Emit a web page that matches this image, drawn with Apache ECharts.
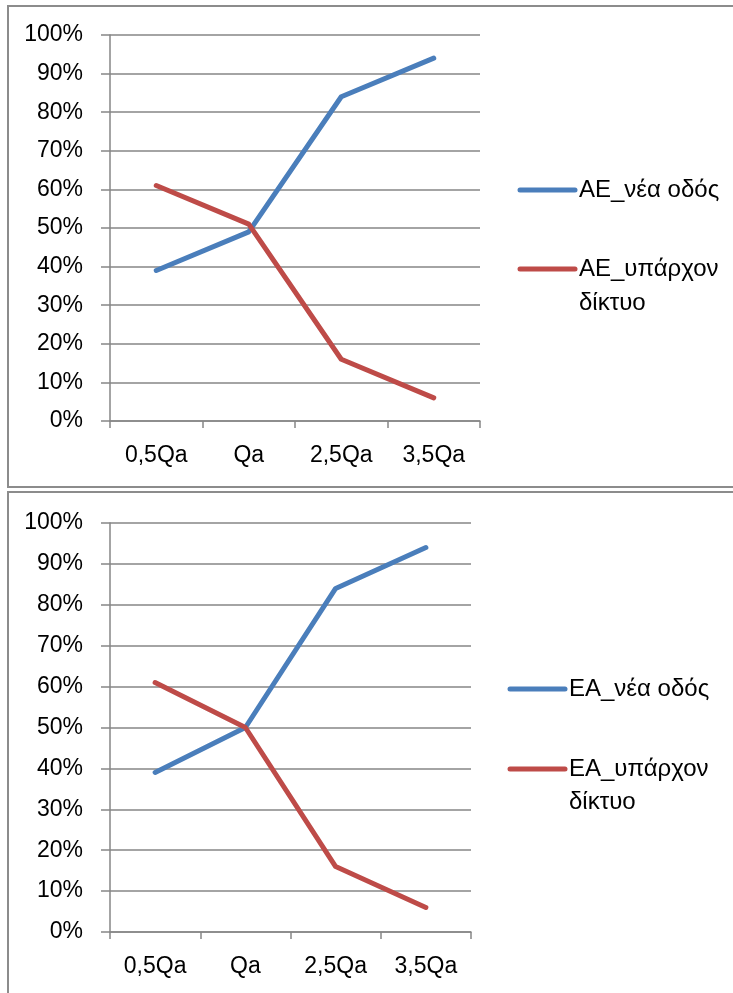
<!DOCTYPE html>
<html>
<head>
<meta charset="utf-8">
<script src="https://cdn.jsdelivr.net/npm/echarts@6/dist/echarts.min.js"></script>
<style>
  html, body { margin: 0; padding: 0; background: #fff; }
  #chart { width: 733px; height: 993px; }
</style>
</head>
<body>
<div id="chart"></div>
<script>
// Flow levels on the x axis
const categories = ['0,5Qa', 'Qa', '2,5Qa', '3,5Qa'];
// Y axis: share of traffic, in percent
const yTicks = [0, 10, 20, 30, 40, 50, 60, 70, 80, 90, 100];

// Direction ΑΕ
const aeNames = ['ΑΕ_νέα οδός', 'ΑΕ_υπάρχον δίκτυο'];
const aeNewRoad = [39, 49, 84, 94];
const aeExisting = [61, 51, 16, 6];

// Direction ΕΑ
const eaNames = ['ΕΑ_νέα οδός', 'ΕΑ_υπάρχον δίκτυο'];
const eaNewRoad = [39, 50, 84, 94];
const eaExisting = [61, 50, 16, 6];

const BLUE = '#4A7EBB';
const RED = '#BE4B48';
const GRID = '#868686';
const FONT = 'Liberation Sans';
const AXIS_FS = 23;
const LEGEND_FS = 24;

const chart = echarts.init(document.getElementById('chart'), null, { renderer: 'canvas' });

function xAxisFor(gridIndex) {
  return {
    type: 'category', gridIndex, data: categories, boundaryGap: true,
    axisLine: { show: true, lineStyle: { color: GRID, width: 1.5 } },
    axisTick: { show: true, length: 7, lineStyle: { color: GRID, width: 1.5 } },
    axisLabel: { color: '#000', fontFamily: FONT, fontSize: AXIS_FS, margin: 23 },
    splitLine: { show: false }
  };
}
function yAxisFor(gridIndex) {
  return {
    type: 'value', gridIndex, min: 0, max: 100, interval: 10,
    axisLine: { show: true, lineStyle: { color: GRID, width: 1.5 } },
    axisTick: { show: true, length: 9, lineStyle: { color: GRID, width: 1.5 } },
    axisLabel: { color: '#000', fontFamily: FONT, fontSize: AXIS_FS, margin: 27,
      formatter: v => yTicks.includes(v) ? v + '%' : '' },
    splitLine: { show: true, lineStyle: { color: GRID, width: 1.5 } }
  };
}
function lineSeries(name, data, color, idx) {
  return {
    type: 'line', name, data, xAxisIndex: idx, yAxisIndex: idx,
    symbol: 'none', smooth: false,
    lineStyle: { color, width: 5, cap: 'round', join: 'round' },
    itemStyle: { color },
    z: 5
  };
}

// Legend drawn as plain line + text graphics, with the wrapped second line
function legendBlock(names, colors, x, yFirst, ySecond, lineH) {
  const els = [];
  const ys = [yFirst, ySecond];
  names.forEach((nm, i) => {
    const y = ys[i];
    els.push({
      type: 'line', shape: { x1: x, y1: y, x2: x + 55, y2: y },
      style: { stroke: colors[i], lineWidth: 5, lineCap: 'round' }, z: 10
    });
    const parts = nm.split(' ');
    // wrap "… υπάρχον δίκτυο" onto two lines
    const lines = nm.indexOf('υπάρχον') >= 0 ? [parts[0], parts.slice(1).join(' ')] : [nm];
    lines.forEach((t, k) => {
      els.push({
        type: 'text', x: x + 59, y: y + k * lineH,
        style: { text: t, fill: '#000', font: LEGEND_FS + 'px ' + FONT, textVerticalAlign: 'middle', textAlign: 'left' },
        z: 10
      });
    });
  });
  return els;
}

const option = {
  animation: false,
  backgroundColor: '#fff',
  grid: [
    { left: 110, right: 253, top: 35, bottom: 572, containLabel: false },
    { left: 110, right: 262, top: 523, bottom: 61, containLabel: false }
  ],
  xAxis: [xAxisFor(0), xAxisFor(1)],
  yAxis: [yAxisFor(0), yAxisFor(1)],
  series: [
    lineSeries(aeNames[0], aeNewRoad, BLUE, 0),
    lineSeries(aeNames[1], aeExisting, RED, 0),
    lineSeries(eaNames[0], eaNewRoad, BLUE, 1),
    lineSeries(eaNames[1], eaExisting, RED, 1)
  ],
  graphic: [
    // chart frames
    { type: 'rect', shape: { x: 8, y: 6, width: 740, height: 481 },
      style: { fill: 'none', stroke: '#8C8C8C', lineWidth: 2 }, z: 0 },
    { type: 'rect', shape: { x: 8, y: 492, width: 740, height: 520 },
      style: { fill: 'none', stroke: '#8C8C8C', lineWidth: 2 }, z: 0 },
    ...legendBlock(aeNames, [BLUE, RED], 520, 190, 269, 34),
    ...legendBlock(eaNames, [BLUE, RED], 510, 689, 769, 33)
  ]
};

chart.setOption(option);
</script>
</body>
</html>
